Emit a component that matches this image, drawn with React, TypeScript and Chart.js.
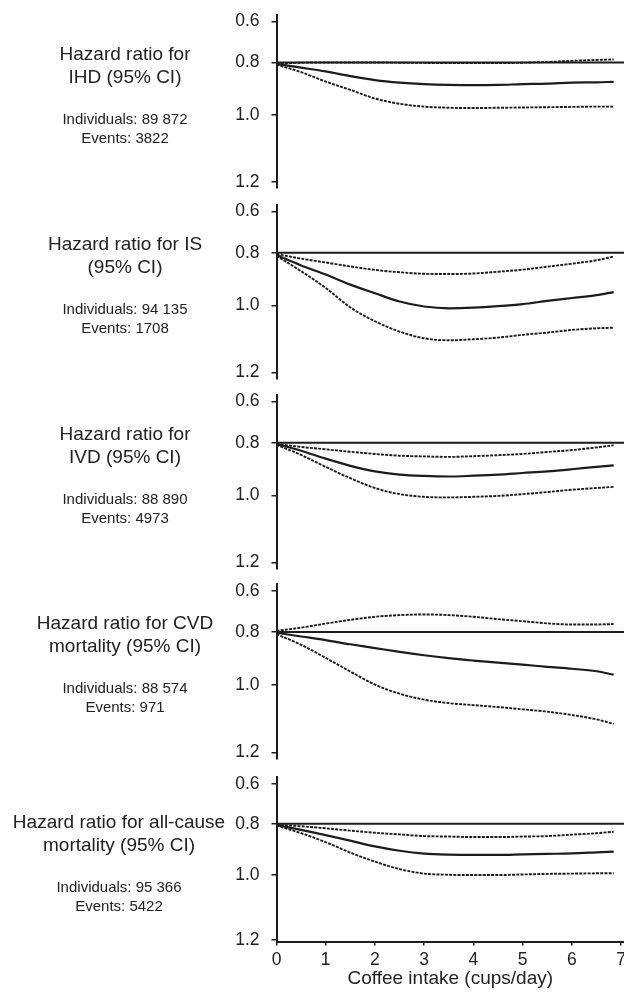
import React, { useEffect, useRef } from 'react';
import { Chart, registerables, LinearScale } from 'chart.js';

// ---------- data ----------
const X = [0, 0.5, 1, 1.5, 2, 2.5, 3, 3.5, 4, 4.5, 5, 5.5, 6, 6.5, 6.85];
const X_TICKS = [0, 1, 2, 3, 4, 5, 6, 7];
const Y_TICKS = [0.6, 0.8, 1.0, 1.2];
const REFERENCE = 0.8;
const X_TITLE = 'Coffee intake (cups/day)';

const IHD_LOWER = [0.805, 0.801, 0.8, 0.8, 0.8, 0.801, 0.802, 0.803, 0.803, 0.803, 0.801, 0.798, 0.793, 0.789, 0.787];
const IHD_HR = [0.806, 0.822, 0.838, 0.857, 0.873, 0.883, 0.889, 0.892, 0.893, 0.892, 0.889, 0.887, 0.883, 0.882, 0.88];
const IHD_UPPER = [0.809, 0.841, 0.879, 0.911, 0.943, 0.962, 0.972, 0.976, 0.977, 0.976, 0.975, 0.974, 0.973, 0.972, 0.972];

const IS_LOWER = [0.806, 0.825, 0.841, 0.857, 0.871, 0.88, 0.886, 0.887, 0.885, 0.878, 0.87, 0.858, 0.846, 0.832, 0.816];
const IS_HR = [0.81, 0.853, 0.889, 0.927, 0.958, 0.987, 1.004, 1.01, 1.008, 1.003, 0.996, 0.985, 0.975, 0.965, 0.954];
const IS_UPPER = [0.813, 0.876, 0.939, 1.007, 1.052, 1.084, 1.104, 1.11, 1.107, 1.102, 1.094, 1.087, 1.079, 1.074, 1.072];

const IVD_LOWER = [0.805, 0.818, 0.828, 0.838, 0.847, 0.854, 0.857, 0.859, 0.856, 0.852, 0.847, 0.839, 0.831, 0.82, 0.811];
const IVD_HR = [0.806, 0.834, 0.866, 0.894, 0.915, 0.927, 0.932, 0.934, 0.931, 0.927, 0.921, 0.915, 0.907, 0.898, 0.892];
const IVD_UPPER = [0.809, 0.851, 0.898, 0.94, 0.975, 0.996, 1.005, 1.007, 1.005, 1.002, 0.996, 0.989, 0.981, 0.975, 0.971];

const CVD_LOWER = [0.795, 0.781, 0.763, 0.746, 0.732, 0.724, 0.721, 0.724, 0.732, 0.743, 0.752, 0.762, 0.767, 0.767, 0.765];
const CVD_HR = [0.803, 0.819, 0.834, 0.851, 0.866, 0.881, 0.894, 0.905, 0.914, 0.922, 0.929, 0.937, 0.944, 0.953, 0.965];
const CVD_UPPER = [0.809, 0.853, 0.904, 0.954, 0.999, 1.029, 1.048, 1.059, 1.065, 1.071, 1.078, 1.085, 1.095, 1.108, 1.121];

const ALL_LOWER = [0.804, 0.811, 0.82, 0.83, 0.839, 0.846, 0.853, 0.855, 0.857, 0.857, 0.855, 0.853, 0.847, 0.841, 0.835];
const ALL_HR = [0.805, 0.827, 0.849, 0.872, 0.895, 0.912, 0.923, 0.927, 0.928, 0.928, 0.926, 0.924, 0.922, 0.918, 0.915];
const ALL_UPPER = [0.808, 0.841, 0.878, 0.919, 0.953, 0.98, 0.996, 1.0, 1.001, 1.001, 0.999, 0.997, 0.996, 0.995, 0.995];

const TITLES = [
  ['Hazard ratio for', 'IHD (95% CI)'],
  ['Hazard ratio for IS', '(95% CI)'],
  ['Hazard ratio for', 'IVD (95% CI)'],
  ['Hazard ratio for CVD', 'mortality (95% CI)'],
  ['Hazard ratio for all-cause', 'mortality (95% CI)'],
];
const INDIVIDUALS = ['89 872', '94 135', '88 890', '88 574', '95 366'];
const EVENTS = ['3822', '1708', '4973', '971', '5422'];

const SERIES = [
  [IHD_LOWER, IHD_HR, IHD_UPPER],
  [IS_LOWER, IS_HR, IS_UPPER],
  [IVD_LOWER, IVD_HR, IVD_UPPER],
  [CVD_LOWER, CVD_HR, CVD_UPPER],
  [ALL_LOWER, ALL_HR, ALL_UPPER],
];

// ---------- layout ----------
const W = 624;
const PAGE_H = 994;
const AREA_TOP = [14.7, 204.7, 394.7, 583.7, 777.2];
const AREA_H = [173, 174, 174, 175, 164.3];
const Y_MIN = 0.5607;
const Y_MAX = [1.2158, 1.2158, 1.2158, 1.2158, 1.204];
const X_MAX = 7.06;
const AXIS_LEFT = 276.5;
const X_AXIS_H = 52.5;
const LABEL_CX = [125, 125, 125, 125, 119];
const LABEL_Y = [60, 250, 440, 629, 828.3];
const INK = '#1c1c1c';
const TEXT = '#222';
const FONT = '"Liberation Sans", Arial, Helvetica, sans-serif';

// hazard-ratio axis with expanding spacing
const K = Math.log(1.28) / 0.2;
class HazardScale extends LinearScale {
  static id = 'hazard';
  static defaults = LinearScale.defaults;
  getPixelForValue(value: any) {
    if (value === null || value === undefined || Number.isNaN(+value)) return NaN;
    const a = Math.exp(K * this.min);
    const b = Math.exp(K * this.max);
    return this.getPixelForDecimal((Math.exp(K * +value) - a) / (b - a));
  }
  getValueForPixel(pixel: number) {
    const a = Math.exp(K * this.min);
    const b = Math.exp(K * this.max);
    return Math.log(a + this.getDecimalForPixel(pixel) * (b - a)) / K;
  }
}

Chart.register(...registerables, HazardScale as any);
Chart.defaults.font.family = FONT;
Chart.defaults.color = TEXT;

function Panel({ index }: { index: number }) {
  const ref = useRef<HTMLCanvasElement | null>(null);
  const last = index === 4;
  const canvasTop = Math.floor(AREA_TOP[index]) - 14;
  const padTop = AREA_TOP[index] - canvasTop;
  const canvasH = last ? PAGE_H - canvasTop : Math.ceil(padTop + AREA_H[index] + 14);
  const padBottom = last ? 0 : canvasH - padTop - AREA_H[index];

  useEffect(() => {
    if (!ref.current) return;
    const [lo, hr, up] = SERIES[index];
    const pts = (arr: number[]) => arr.map((y, i) => ({ x: X[i], y }));
    const lineBase = {
      pointRadius: 0,
      borderColor: INK,
      cubicInterpolationMode: 'monotone' as const,
      fill: false,
    };
    const sideText = {
      id: 'sideText' + index,
      afterDraw(chart: any) {
        const ctx = chart.ctx;
        ctx.save();
        ctx.fillStyle = TEXT;
        ctx.textAlign = 'center';
        ctx.textBaseline = 'alphabetic';
        const cx = LABEL_CX[index];
        const y0 = LABEL_Y[index] - canvasTop;
        ctx.font = `19px ${FONT}`;
        ctx.fillText(TITLES[index][0], cx, y0);
        ctx.fillText(TITLES[index][1], cx, y0 + 22.8);
        ctx.font = `15px ${FONT}`;
        ctx.fillText('Individuals: ' + INDIVIDUALS[index], cx, y0 + 64);
        ctx.fillText('Events: ' + EVENTS[index], cx, y0 + 82.5);
        ctx.restore();
      },
    };
    const chart = new Chart(ref.current, {
      type: 'line',
      data: {
        datasets: [
          { ...lineBase, data: [{ x: 0, y: REFERENCE }, { x: X_MAX, y: REFERENCE }], borderWidth: 2, cubicInterpolationMode: 'default', tension: 0 },
          { ...lineBase, data: pts(lo), borderWidth: 1.9, borderDash: [3, 1.2] },
          { ...lineBase, data: pts(hr), borderWidth: 2.2 },
          { ...lineBase, data: pts(up), borderWidth: 1.9, borderDash: [3, 1.2] },
        ],
      },
      options: {
        responsive: false,
        animation: false,
        devicePixelRatio: 1,
        layout: { padding: { top: padTop, bottom: padBottom, left: 0, right: 0 } },
        plugins: { legend: { display: false }, tooltip: { enabled: false } },
        scales: {
          x: {
            type: 'linear',
            min: 0,
            max: X_MAX,
            bounds: 'data',
            display: last,
            afterBuildTicks: (s: any) => { s.ticks = X_TICKS.map((v) => ({ value: v })); },
            afterFit: (s: any) => {
              if (last) s.height = X_AXIS_H;
              s.paddingLeft = 0;
              s.paddingRight = 0;
            },
            ticks: { font: { size: 17.5 }, color: TEXT, padding: 4, maxRotation: 0, callback: (v: any) => String(v) },
            grid: { drawOnChartArea: false, drawTicks: true, tickLength: 4, color: INK, lineWidth: 1.5 },
            border: { display: true, color: INK, width: 2 },
            title: { display: true, text: X_TITLE, font: { size: 19 }, color: TEXT, padding: { top: 0, bottom: 3.5 } },
          },
          y: {
            type: 'hazard' as any,
            reverse: true,
            min: Y_MIN,
            max: Y_MAX[index],
            bounds: 'data',
            afterBuildTicks: (s: any) => { s.ticks = Y_TICKS.map((v) => ({ value: v })); },
            afterFit: (s: any) => { s.width = AXIS_LEFT; s.paddingTop = 0; s.paddingBottom = 0; },
            ticks: { font: { size: 17.5 }, color: TEXT, padding: 12, callback: (v: any) => Number(v).toFixed(1) },
            grid: { drawOnChartArea: false, drawTicks: true, tickLength: 5, color: INK, lineWidth: 1.5 },
            border: { display: true, color: INK, width: 2 },
          } as any,
        },
      },
      plugins: [sideText],
    } as any);
    return () => chart.destroy();
  }, [index]);

  return (
    <canvas
      ref={ref}
      width={W}
      height={canvasH}
      style={{ position: 'absolute', left: 0, top: canvasTop, width: W, height: canvasH }}
    />
  );
}

export default function App() {
  return (
    <div style={{ position: 'absolute', left: 0, top: 0, width: W, height: PAGE_H, background: '#fff', overflow: 'hidden' }}>
      {[0, 1, 2, 3, 4].map((i) => (
        <Panel key={i} index={i} />
      ))}
    </div>
  );
}
